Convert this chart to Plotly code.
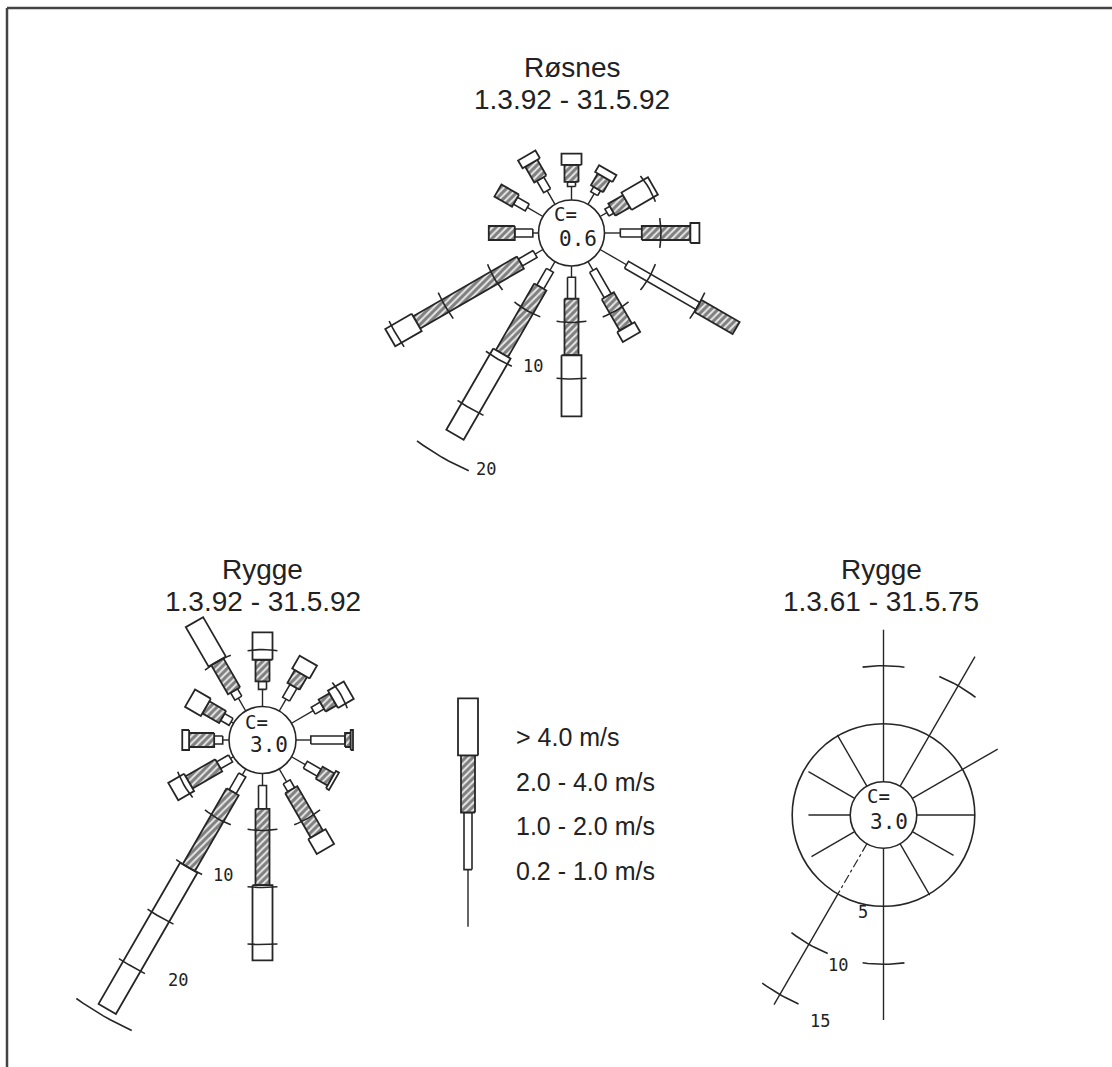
import numpy as np
import plotly.graph_objects as go

W, H = 1112, 1067

# ---------------- data ----------------
DIRECTIONS = [0, 30, 60, 90, 120, 150, 180, 210, 240, 270, 300, 330]  # degrees from north
SPEED_LABELS = ["> 4.0 m/s", "2.0 - 4.0 m/s", "1.0 - 2.0 m/s", "0.2 - 1.0 m/s"]

# Røsnes 1.3.92 - 31.5.92 : frequency (%) per speed class and direction
ROSNES_0210 = [1.2, 1.1, 0.7, 1.4, 2.7, 0.9, 1.0, 0.9, 0.8, 0.5, 1.6, 1.4]
ROSNES_1020 = [0.4, 0.5, 0.5, 1.9, 7.3, 2.6, 1.9, 1.7, 1.5, 1.6, 1.2, 1.2]
ROSNES_2040 = [1.5, 1.2, 1.5, 4.3, 3.9, 3.2, 5.0, 6.8, 10.6, 2.3, 1.8, 1.6]
ROSNES_GT40 = [1.0, 0.7, 2.7, 0.8, 0.0, 1.0, 5.4, 8.3, 2.7, 0.0, 0.0, 0.8]
ROSNES_CALM = "0.6"

# Rygge 1.3.92 - 31.5.92
RYGGE92_0210 = [1.5, 1.2, 2.2, 1.3, 1.4, 1.3, 1.05, 0.6, 0.3, 0.55, 0.25, 1.3]
RYGGE92_1020 = [0.7, 1.3, 0.9, 3.0, 1.4, 0.8, 2.05, 1.7, 1.2, 0.75, 0.85, 0.75]
RYGGE92_2040 = [1.9, 1.3, 1.1, 0.5, 1.2, 4.5, 6.7, 7.7, 3.0, 2.2, 1.7, 2.95]
RYGGE92_GT40 = [2.4, 1.3, 1.6, 0.2, 0.3, 1.5, 6.6, 14.3, 1.6, 0.6, 1.6, 4.0]
RYGGE92_CALM = "3.0"

# Rygge 1.3.61 - 31.5.75 : total frequency (%) per direction
RYGGE6175_TOTAL = [13.1, 12.9, 8.5, 5.0, 4.1, 5.1, 14.8, 16.0, 4.3, 3.6, 4.6, 5.1]
RYGGE6175_CALM = "3.0"

# legend key: one unit per speed class (bottom to top)
LEGEND_KEY = [1.0, 1.0, 1.0, 1.0]

TITLES = [("Røsnes", "1.3.92 - 31.5.92"), ("Rygge", "1.3.92 - 31.5.92"), ("Rygge", "1.3.61 - 31.5.75")]

# ---------------- style / layout ----------------
LINE = "#262626"
MONO = "DejaVu Sans Mono"
SANS = "Liberation Sans"
HALF_W = [0.0, 4.0, 7.0, 10.0]  # px half-widths of class segments

fig = go.Figure()
layout_axes = {}


def setup_axes(n, box, center, k):
    x0, x1, y0, y1 = box
    cx, cy = center
    xa = "xaxis" if n == 1 else f"xaxis{n}"
    ya = "yaxis" if n == 1 else f"yaxis{n}"
    common = dict(visible=False, showgrid=False, zeroline=False, fixedrange=True)
    layout_axes[xa] = dict(domain=[x0 / W, x1 / W], range=[(x0 - cx) / k, (x1 - cx) / k],
                           anchor="y" if n == 1 else f"y{n}", **common)
    layout_axes[ya] = dict(domain=[1 - y1 / H, 1 - y0 / H], range=[(cy - y1) / k, (cy - y0) / k],
                           anchor="x" if n == 1 else f"x{n}", **common)
    return ("x" if n == 1 else f"x{n}"), ("y" if n == 1 else f"y{n}")


def pt(R, th):
    t = np.deg2rad(th)
    return R * np.sin(t), R * np.cos(t)


def rect(th, Ra, Rb, hw, xs, ys):
    t = np.deg2rad(th)
    ux, uy = np.sin(t), np.cos(t)
    vx, vy = np.cos(t), -np.sin(t)
    for a, s in [(Ra, 1), (Rb, 1), (Rb, -1), (Ra, -1), (Ra, 1)]:
        xs.append(a * ux + s * hw * vx)
        ys.append(a * uy + s * hw * vy)
    xs.append(None)
    ys.append(None)


def arc(R, th, half_px, k, xs, ys, n=9):
    span = np.rad2deg(half_px / k / R)
    for a in np.linspace(th - span, th + span, n):
        x, y = pt(R, a)
        xs.append(x)
        ys.append(y)
    xs.append(None)
    ys.append(None)


def bar_rose(classes, dirs, R0, k, xr, yr, tick_px=15, ticks=True):
    cum = np.cumsum(np.array(classes, dtype=float), axis=0)
    thin_x, thin_y = [], []
    polys = {1: ([], []), 2: ([], []), 3: ([], [])}
    tk_x, tk_y = [], []
    for j, th in enumerate(dirs):
        b = [0.0] + list(cum[:, j])
        xa, ya = pt(R0 + b[0], th)
        xb, yb = pt(R0 + b[1], th)
        thin_x += [xa, xb, None]
        thin_y += [ya, yb, None]
        for c in (1, 2, 3):
            if b[c + 1] - b[c] > 0.01:
                rect(th, R0 + b[c], R0 + b[c + 1], HALF_W[c] / k, *polys[c])
        if ticks:
            for m in range(5, 40, 5):
                if m < b[4] - 0.2:
                    arc(R0 + m, th, tick_px, k, tk_x, tk_y)
    fig.add_trace(go.Scatter(x=thin_x, y=thin_y, mode="lines", line=dict(color=LINE, width=1.4),
                             xaxis=xr, yaxis=yr, hoverinfo="skip", showlegend=False))
    fig.add_trace(go.Scatter(x=polys[1][0], y=polys[1][1], mode="lines", fill="toself",
                             fillcolor="white", line=dict(color=LINE, width=1.6),
                             xaxis=xr, yaxis=yr, hoverinfo="skip", showlegend=False))
    fig.add_trace(go.Scatter(x=polys[2][0], y=polys[2][1], mode="lines", fill="toself",
                             fillpattern=dict(shape="/", fgcolor="#151515", bgcolor="#e8e8e8",
                                              size=5, solidity=0.6),
                             line=dict(color=LINE, width=1.8),
                             xaxis=xr, yaxis=yr, hoverinfo="skip", showlegend=False))
    fig.add_trace(go.Scatter(x=polys[3][0], y=polys[3][1], mode="lines", fill="toself",
                             fillcolor="white", line=dict(color=LINE, width=1.8),
                             xaxis=xr, yaxis=yr, hoverinfo="skip", showlegend=False))
    if tk_x:
        fig.add_trace(go.Scatter(x=tk_x, y=tk_y, mode="lines", line=dict(color=LINE, width=1.6),
                                 xaxis=xr, yaxis=yr, hoverinfo="skip", showlegend=False))


shapes = []
annotations = []


def circle(R, xr, yr, width=1.6):
    shapes.append(dict(type="circle", xref=xr, yref=yr, x0=-R, x1=R, y0=-R, y1=R,
                       line=dict(color=LINE, width=width), fillcolor="white", layer="above"))


def calm_text(calm, xr, yr, dx1, dy1, dx2, dy2):
    annotations.append(dict(x=0, y=0, xref=xr, yref=yr, text="C=", showarrow=False,
                            xshift=dx1, yshift=dy1, font=dict(family=MONO, size=19, color="#222")))
    annotations.append(dict(x=0, y=0, xref=xr, yref=yr, text=calm, showarrow=False,
                            xshift=dx2, yshift=dy2, font=dict(family=MONO, size=21, color="#222")))


def scale_label(text, R, th, xr, yr, dx, dy):
    x, y = pt(R, th)
    annotations.append(dict(x=x, y=y, xref=xr, yref=yr, text=text, showarrow=False,
                            xshift=dx, yshift=dy, font=dict(family=MONO, size=17, color="#222")))


# ---- Rose 1: Røsnes ----
k1, r1 = 11.3, 33.0
R01 = r1 / k1
x1r, y1r = setup_axes(1, (360, 800, 130, 490), (571.5, 233), k1)
bar_rose([ROSNES_0210, ROSNES_1020, ROSNES_2040, ROSNES_GT40], DIRECTIONS, R01, k1, x1r, y1r)
sx, sy = [], []
arc(R01 + 20, 210, 30, k1, sx, sy)
fig.add_trace(go.Scatter(x=sx, y=sy, mode="lines", line=dict(color=LINE, width=1.6),
                         xaxis=x1r, yaxis=y1r, hoverinfo="skip", showlegend=False))
circle(R01, x1r, y1r)
calm_text(ROSNES_CALM, x1r, y1r, -6, 19, 6, -6)
scale_label("10", R01 + 10, 210, x1r, y1r, 34, -7)
scale_label("20", R01 + 20, 210, x1r, y1r, 44, -12)

# ---- Rose 2: Rygge 1992 ----
k2, r2 = 11.4, 33.5
R02 = r2 / k2
x2r, y2r = setup_axes(2, (20, 420, 600, 1060), (262.5, 740), k2)
bar_rose([RYGGE92_0210, RYGGE92_1020, RYGGE92_2040, RYGGE92_GT40], DIRECTIONS, R02, k2, x2r, y2r)
sx, sy = [], []
arc(R02 + 25, 210, 32, k2, sx, sy)
fig.add_trace(go.Scatter(x=sx, y=sy, mode="lines", line=dict(color=LINE, width=1.6),
                         xaxis=x2r, yaxis=y2r, hoverinfo="skip", showlegend=False))
circle(R02, x2r, y2r)
calm_text(RYGGE92_CALM, x2r, y2r, -6, 18, 6, -5)
scale_label("10", R02 + 10, 210, x2r, y2r, 34, -7)
scale_label("20", R02 + 20, 210, x2r, y2r, 46, -14)

# ---- Rose 3: Rygge 1961-75 ----
k3, r3 = 11.6, 33.3
R03 = r3 / k3
x3r, y3r = setup_axes(3, (740, 1060, 600, 1060), (883.5, 815), k3)
shapes.append(dict(type="circle", xref=x3r, yref=y3r, x0=-(R03 + 5), x1=R03 + 5,
                   y0=-(R03 + 5), y1=R03 + 5, line=dict(color=LINE, width=1.6), layer="below"))
ray_x, ray_y, dash_x, dash_y, t3x, t3y = [], [], [], [], [], []
for th, tot in zip(DIRECTIONS, RYGGE6175_TOTAL):
    if th == 210:
        xa, ya = pt(R03, th)
        xb, yb = pt(R03 + 5, th)
        dash_x += [xa, xb, None]
        dash_y += [ya, yb, None]
        xa, ya = xb, yb
    else:
        xa, ya = pt(R03, th)
    xb, yb = pt(R03 + tot, th)
    ray_x += [xa, xb, None]
    ray_y += [ya, yb, None]
    for m in range(10, 40, 5):
        if m < tot - 0.2:
            arc(R03 + m, th, 21, k3, t3x, t3y)
fig.add_trace(go.Scatter(x=ray_x, y=ray_y, mode="lines", line=dict(color=LINE, width=1.4),
                         xaxis=x3r, yaxis=y3r, hoverinfo="skip", showlegend=False))
fig.add_trace(go.Scatter(x=dash_x, y=dash_y, mode="lines", line=dict(color=LINE, width=1.2, dash="dashdot"),
                         xaxis=x3r, yaxis=y3r, hoverinfo="skip", showlegend=False))
fig.add_trace(go.Scatter(x=t3x, y=t3y, mode="lines", line=dict(color=LINE, width=1.6),
                         xaxis=x3r, yaxis=y3r, hoverinfo="skip", showlegend=False))
circle(R03, x3r, y3r)
calm_text(RYGGE6175_CALM, x3r, y3r, -5, 19, 5, -7)
scale_label("5", R03 + 5, 192, x3r, y3r, -2, -8)
scale_label("10", R03 + 10, 210, x3r, y3r, 29, -21)
scale_label("15", R03 + 15, 210, x3r, y3r, 40, -26)

# ---- Legend key ----
kL = 57.1
xLr, yLr = setup_axes(4, (420, 520, 690, 935), (468, 926.7), kL)
bar_rose([[v] for v in LEGEND_KEY], [0], 0.0, kL, xLr, yLr, ticks=False)
for i, lab in enumerate(SPEED_LABELS):
    annotations.append(dict(x=514 / W, y=1 - (737 + 44.5 * i) / H, xref="paper", yref="paper",
                            text=lab, showarrow=False, xanchor="left", yanchor="middle",
                            font=dict(family=SANS, size=25, color="#222")))

# ---- Titles ----
for (t1, t2), (cx, ty) in zip(TITLES, [(572, 68), (262.5, 569), (881, 569)]):
    annotations.append(dict(x=cx / W, y=1 - ty / H, xref="paper", yref="paper", text=t1,
                            showarrow=False, xanchor="center", yanchor="middle",
                            font=dict(family=SANS, size=28, color="#222")))
    annotations.append(dict(x=cx / W, y=1 - (ty + 32) / H, xref="paper", yref="paper", text=t2,
                            showarrow=False, xanchor="center", yanchor="middle",
                            font=dict(family=SANS, size=28, color="#222")))

# ---- Frame ----
shapes.append(dict(type="line", xref="paper", yref="paper", x0=7 / W, x1=7 / W, y0=0, y1=1 - 8 / H,
                   line=dict(color="#444", width=2.5)))
shapes.append(dict(type="line", xref="paper", yref="paper", x0=7 / W, x1=1, y0=1 - 8 / H, y1=1 - 8 / H,
                   line=dict(color="#444", width=2.5)))

fig.update_layout(width=W, height=H, margin=dict(l=0, r=0, t=0, b=0), autosize=False,
                  paper_bgcolor="white", plot_bgcolor="rgba(0,0,0,0)", showlegend=False,
                  shapes=shapes, annotations=annotations, **layout_axes)

fig.write_html("out.html", config={"displayModeBar": False},
               post_script="document.body.style.margin='0px';")
